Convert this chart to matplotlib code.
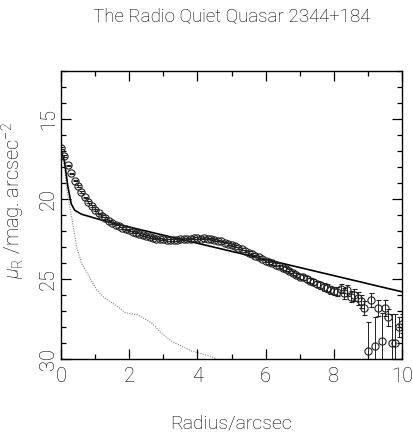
import numpy as np
import matplotlib
matplotlib.use("Agg")
import matplotlib.pyplot as plt
from matplotlib.ticker import MultipleLocator

plt.rcParams["font.family"] = ["Roboto", "DejaVu Sans"]
plt.rcParams["font.weight"] = "light"
plt.rcParams["axes.labelweight"] = "light"
plt.rcParams["text.color"] = "black"
plt.rcParams["mathtext.fontset"] = "custom"
plt.rcParams["mathtext.rm"] = "Roboto:light"
plt.rcParams["mathtext.it"] = "Roboto:italic:light"

# observed surface brightness profile, 0.1 arcsec bins
radius = np.round(np.arange(0.0, 10.01, 0.1), 1)
mu_obs = [
    16.8, 17.3, 17.9, 18.4, 18.85, 19.2, 19.55, 19.9, 20.2, 20.45,
    20.7, 20.9, 21.05, 21.2, 21.35, 21.5, 21.6, 21.7, 21.8, 21.9,
    21.95, 22.05, 22.1, 22.2, 22.25, 22.3, 22.38, 22.42, 22.48, 22.5,
    22.52, 22.55, 22.55, 22.58, 22.55, 22.5, 22.5, 22.48, 22.48, 22.45,
    22.45, 22.48, 22.45, 22.48, 22.5, 22.55, 22.6, 22.65, 22.72, 22.8,
    22.85, 22.95, 23.05, 23.15, 23.25, 23.35, 23.45, 23.55, 23.65, 23.75,
    23.85, 23.95, 24.02, 24.1, 24.2, 24.3, 24.4, 24.5, 24.65, 24.75,
    24.85, 24.9, 25.0, 25.1, 25.2, 25.3, 25.4, 25.5, 25.55, 25.7,
    25.75, 25.8, 25.6, 25.9, 25.7, 26.1, 26.0, 26.2, 26.4, 26.8,
    29.5, 26.3, 29.2, 26.8, 28.9, 26.8, 27.4, 29.0, 29.0, 28.0,
    27.8,
]
mu_err = [
    0.05, 0.05, 0.05, 0.05, 0.05, 0.05, 0.05, 0.05, 0.05, 0.05,
    0.05, 0.05, 0.05, 0.05, 0.05, 0.05, 0.05, 0.05, 0.05, 0.05,
    0.05, 0.05, 0.05, 0.05, 0.05, 0.05, 0.05, 0.05, 0.05, 0.05,
    0.05, 0.05, 0.05, 0.05, 0.05, 0.05, 0.05, 0.05, 0.05, 0.05,
    0.05, 0.05, 0.05, 0.05, 0.05, 0.05, 0.05, 0.05, 0.05, 0.05,
    0.06, 0.06, 0.06, 0.06, 0.07, 0.07, 0.07, 0.08, 0.08, 0.08,
    0.09, 0.09, 0.1, 0.1, 0.1, 0.11, 0.12, 0.12, 0.13, 0.14,
    0.15, 0.16, 0.17, 0.18, 0.19, 0.2, 0.21, 0.22, 0.24, 0.25,
    0.27, 0.28, 0.3, 0.32, 0.34, 0.36, 0.38, 0.4, 0.42, 0.45,
    1.8, 0.45, 1.8, 0.5, 1.8, 0.5, 0.55, 1.8, 1.8, 0.6,
    0.6,
]

# host + nucleus model (solid) and stellar PSF (dotted)
model_r = [0.0, 0.1, 0.2, 0.3, 0.4, 0.6, 1.0, 1.5, 10.0]
model_mu = [17.0, 17.6, 19.2, 20.3, 20.7, 20.95, 21.2, 21.5, 25.8]
psf_r = [0.0, 0.1, 0.17, 0.31, 0.46, 0.6, 1.05, 1.29, 1.58, 1.88, 2.26,
         2.66, 2.95, 3.25, 3.54, 3.83, 4.16, 4.42, 4.55]
psf_mu = [17.0, 18.0, 19.4, 21.1, 23.0, 24.0, 25.7, 26.2, 26.6, 27.1, 27.25,
          27.75, 28.4, 28.9, 29.2, 29.5, 29.7, 29.85, 30.0]

fig = plt.figure(figsize=(4.13, 4.46), dpi=100)
ax = fig.add_axes([61 / 413, 1 - 359 / 446, 341 / 413, 288 / 446])

ax.plot(psf_r, psf_mu, color="#888888", lw=0.8, ls=(0, (1, 1.2)))
ax.plot(model_r, model_mu, color="black", lw=1.2)
ax.errorbar(radius, mu_obs, yerr=mu_err, fmt="o", ms=5.2, mfc="none",
            mec="#222222", mew=0.8, ecolor="#222222", elinewidth=0.7,
            capsize=1.8, capthick=0.7)

ax.set_xlim(0, 10)
ax.set_ylim(30, 12)
ax.xaxis.set_major_locator(MultipleLocator(2))
ax.xaxis.set_minor_locator(MultipleLocator(1))
ax.yaxis.set_major_locator(MultipleLocator(5))
ax.yaxis.set_minor_locator(MultipleLocator(1))
ax.tick_params(which="both", direction="in", top=True, right=True,
               width=0.9, labelsize=14.5, labelcolor="black")
ax.tick_params(which="major", length=7)
ax.tick_params(which="minor", length=3.5)
ax.tick_params(axis="x", pad=6)
ax.tick_params(axis="y", pad=2)
for lab in ax.get_yticklabels():
    lab.set_rotation(90)
    lab.set_va("center")
for s in ax.spines.values():
    s.set_linewidth(1.0)

ax.set_xlabel("Radius/arcsec", fontsize=14, labelpad=20)
ax.set_ylabel(r"$\mu_{\rm R}$ /mag. arcsec$^{-2}$", fontsize=14.5)
ax.yaxis.set_label_coords(-0.1, 0.55)
fig.text(232 / 413, 0.962, "The Radio Quiet Quasar 2344+184", ha="center",
         va="center", fontsize=13.5)

fig.savefig("out.png", dpi=100)
